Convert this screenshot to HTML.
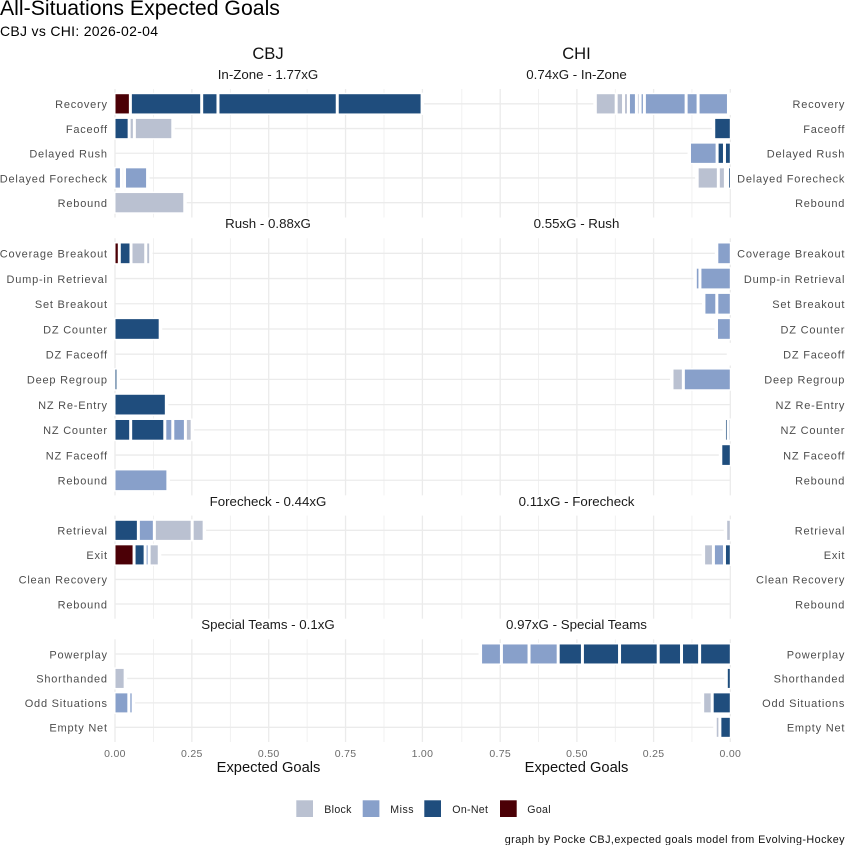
<!DOCTYPE html>
<html lang="en">
<head>
<meta charset="utf-8">
<title>All-Situations Expected Goals</title>
<style>
html,body{margin:0;padding:0;background:#fff;width:845px;height:845px;overflow:hidden}
svg{display:block}
text{font-family:"Liberation Sans",sans-serif}
</style>
</head>
<body>
<svg id="chart" xmlns="http://www.w3.org/2000/svg" width="845" height="845" viewBox="0 0 845 845">
  <rect x="0" y="0" width="845" height="845" fill="#ffffff"/>
  <g id="grid"></g>
  <g id="bars"></g>
  <g id="labels"></g>

  <text x="0" y="15" font-size="21.25" fill="#000">All-Situations Expected Goals</text>
  <text x="0" y="36" font-size="14" letter-spacing="0.3" fill="#000">CBJ vs CHI: 2026-02-04</text>
  <text x="268" y="59" font-size="16.6" text-anchor="middle" fill="#111">CBJ</text>
  <text x="576.5" y="59" font-size="16.6" text-anchor="middle" fill="#111">CHI</text>

  <text x="268" y="79" font-size="13.3" text-anchor="middle" fill="#1a1a1a">In-Zone - 1.77xG</text>
  <text x="576.5" y="79" font-size="13.3" text-anchor="middle" fill="#1a1a1a">0.74xG - In-Zone</text>
  <text x="268" y="228" font-size="13.3" text-anchor="middle" fill="#1a1a1a">Rush - 0.88xG</text>
  <text x="576.5" y="228" font-size="13.3" text-anchor="middle" fill="#1a1a1a">0.55xG - Rush</text>
  <text x="268" y="506" font-size="13.3" text-anchor="middle" fill="#1a1a1a">Forecheck - 0.44xG</text>
  <text x="576.5" y="506" font-size="13.3" text-anchor="middle" fill="#1a1a1a">0.11xG - Forecheck</text>
  <text x="268" y="629" font-size="13.3" text-anchor="middle" fill="#1a1a1a">Special Teams - 0.1xG</text>
  <text x="576.5" y="629" font-size="13.3" text-anchor="middle" fill="#1a1a1a">0.97xG - Special Teams</text>

  <text x="268.5" y="772" font-size="14.7" text-anchor="middle" fill="#111">Expected Goals</text>
  <text x="576.5" y="772" font-size="14.7" text-anchor="middle" fill="#111">Expected Goals</text>

  <g>
    <g>
      <rect x="296.3" y="800.3" width="16.7" height="16.7" fill="#bac1d1"/>
      <text x="324.3" y="813" font-size="10.6" letter-spacing="0.3" fill="#222">Block</text>
    </g>
    <g>
      <rect x="362.7" y="800.3" width="16.7" height="16.7" fill="#88a0ca"/>
      <text x="390.3" y="813" font-size="10.6" letter-spacing="0.5" fill="#222">Miss</text>
    </g>
    <g>
      <rect x="424.3" y="800.3" width="16.7" height="16.7" fill="#1f4d7d"/>
      <text x="452.3" y="813" font-size="10.6" letter-spacing="0.3" fill="#222">On-Net</text>
    </g>
    <g>
      <rect x="500" y="800.3" width="16.7" height="16.7" fill="#4b0006"/>
      <text x="527.3" y="813" font-size="10.6" letter-spacing="0.3" fill="#222">Goal</text>
    </g>
  </g>
  <text x="845" y="843" font-size="10.8" letter-spacing="0.43" text-anchor="end" fill="#111">graph by Pocke CBJ,expected goals model from Evolving-Hockey</text>
</svg>
<script>
// ---- categories ----
const inZoneCategories = ['Recovery','Faceoff','Delayed Rush','Delayed Forecheck','Rebound'];
const rushCategories = ['Coverage Breakout','Dump-in Retrieval','Set Breakout','DZ Counter','DZ Faceoff','Deep Regroup','NZ Re-Entry','NZ Counter','NZ Faceoff','Rebound'];
const forecheckCategories = ['Retrieval','Exit','Clean Recovery','Rebound'];
const specialCategories = ['Powerplay','Shorthanded','Odd Situations','Empty Net'];

// ---- tick labels ----
const cbjTicks = [0, 0.25, 0.5, 0.75, 1];
const chiTicks = [0, 0.25, 0.5, 0.75];
const minorTicks = [0.125, 0.375, 0.625, 0.875];

// ---- series: shot xG values stacked outward from 0, with shot result codes ----
// B = Block, M = Miss, O = On-Net, G = Goal
const cbjInZoneValues = [[0.050,0.232,0.053,0.388,0.276],[0.046,0.017,0.125],[],[0.021,0.010,0.075],[0.227]];
const cbjInZoneTypes  = [['G','O','O','O','O'],['O','B','B'],[],['M','M','M'],['B']];
const chiInZoneValues = [[0.006,0.099,0.039,0.136,0.014,0.012,0.026,0.016,0.024,0.068],[0.054],[0.019,0.024,0.090],[0.009,0.007,0.023,0.069],[]];
const chiInZoneTypes  = [['M','M','M','M','M','B','M','B','B','B'],['O'],['O','O','M'],['O','B','B','B'],[]];

const cbjRushValues = [[0.014,0.038,0.048,0.016],[],[],[0.147],[],[0.0095],[0.167],[0.051,0.111,0.026,0.041,0.022],[],[0.172]];
const cbjRushTypes  = [['G','O','B','B'],[],[],['O'],[],['O'],['O'],['O','O','M','M','B'],[],['M']];
const chiRushValues = [[0.044],[0.099,0.015],[0.044,0.042],[0.045],[0.005],[0.153,0.037],[],[0.007,0.012],[0.031],[]];
const chiRushTypes  = [['M'],['M','M'],['M','M'],['M'],['B'],['M','B'],[],['O','O'],['O'],[]];

const cbjForecheckValues = [[0.076,0.052,0.123,0.039],[0.062,0.036,0.013,0.033],[],[]];
const cbjForecheckTypes  = [['O','M','B','B'],['G','O','M','B'],[],[]];
const chiForecheckValues = [[0.015],[0.019,0.036,0.032],[],[]];
const chiForecheckTypes  = [['B'],['O','M','B'],[],[]];

const cbjSpecialValues = [[],[0.033],[0.045,0.014],[]];
const cbjSpecialTypes  = [[],['B'],['M','M'],[]];
const chiSpecialValues = [[0.100,0.059,0.076,0.126,0.121,0.079,0.095,0.090,0.068],[0.013],[0.059,0.031],[0.034,0.015]];
const chiSpecialTypes  = [['O','O','O','O','O','O','M','M','M'],['O'],['O','B'],['O','B']];

const resultColors = {B:'#bac1d1', M:'#88a0ca', O:'#1f4d7d', G:'#4b0006'};

// ---- axis functions ----
const NS = 'http://www.w3.org/2000/svg';
function xCbj(v){ return 115 + 307.4 * v; }
function xChi(v){ return 730.3 - 306.8 * v; }
const facetLayout = [
  {key:'in-zone',   top:89,    bottom:217.5, cats:inZoneCategories,    cbj:cbjInZoneValues,    cbjT:cbjInZoneTypes,    chi:chiInZoneValues,    chiT:chiInZoneTypes},
  {key:'rush',      top:238.2, bottom:495.4, cats:rushCategories,      cbj:cbjRushValues,      cbjT:cbjRushTypes,      chi:chiRushValues,      chiT:chiRushTypes},
  {key:'forecheck', top:515.6, bottom:618.7, cats:forecheckCategories, cbj:cbjForecheckValues, cbjT:cbjForecheckTypes, chi:chiForecheckValues, chiT:chiForecheckTypes},
  {key:'special',   top:639.3, bottom:742,   cats:specialCategories,   cbj:cbjSpecialValues,   cbjT:cbjSpecialTypes,   chi:chiSpecialValues,   chiT:chiSpecialTypes}
];
function stepOf(f){ return (f.bottom - f.top) / (f.cats.length - 1 + 1.2); }
function yOf(f,i){ return f.top + stepOf(f) * (0.6 + i); }

const gridG = document.getElementById('grid');
const barsG = document.getElementById('bars');
const labelsG = document.getElementById('labels');

function makeLine(x1,y1,x2,y2,w){
  const l = document.createElementNS(NS,'line');
  l.setAttribute('x1',x1); l.setAttribute('y1',y1);
  l.setAttribute('x2',x2); l.setAttribute('y2',y2);
  l.setAttribute('stroke','#ebebeb');
  l.setAttribute('stroke-width',w);
  gridG.appendChild(l);
  return l;
}
function makeRowLabel(txt,x,y,anchor){
  const t = document.createElementNS(NS,'text');
  t.setAttribute('x',x); t.setAttribute('y',y+4.3);
  t.setAttribute('font-size','11');
  t.setAttribute('letter-spacing','0.78');
  t.setAttribute('text-anchor',anchor);
  t.setAttribute('fill','#4d4d4d');
  t.textContent = txt;
  labelsG.appendChild(t);
  return t;
}
function makeStack(f,i,values,types,sx,dir,team){
  if(!values.length) return;
  const y = yOf(f,i), step = stepOf(f);
  const total = values.reduce((a,b)=>a+b,0);
  const g = document.createElementNS(NS,'g');
  
  
  // white halo cutting the grid lines behind the stack
  const halo = document.createElementNS(NS,'rect');
  const h0 = sx(0) - dir*1.5, h1 = sx(total) + dir*2;
  halo.setAttribute('x',Math.min(h0,h1));
  halo.setAttribute('y',y-step*0.45);
  halo.setAttribute('width',Math.abs(h1-h0));
  halo.setAttribute('height',step*0.9);
  halo.setAttribute('fill','#fff');
  
  
  g.appendChild(halo);
  let cum = 0;
  values.forEach((v,j)=>{
    const a = sx(cum) + dir*(j===0 ? 0.5 : 1.5);
    const b = sx(cum+v) - dir*1.5;
    cum += v;
    const w = (b-a)*dir;
    if(w <= 0) return;
    const r = document.createElementNS(NS,'rect');
    r.setAttribute('x',Math.min(a,b));
    r.setAttribute('y',y-step*0.45+1.5);
    r.setAttribute('width',w);
    r.setAttribute('height',step*0.9-3);
    r.setAttribute('fill',resultColors[types[j]]);
    
    
    g.appendChild(r);
  });
  barsG.appendChild(g);
}

facetLayout.forEach(f=>{
  // vertical minor + major grid
  minorTicks.forEach(t=>{
    const a = makeLine(xCbj(t),f.top,xCbj(t),f.bottom,0.7);
    
    
    const b = makeLine(xChi(t),f.top,xChi(t),f.bottom,0.7);
    
    
  });
  cbjTicks.forEach(t=>{
    const a = makeLine(xCbj(t),f.top,xCbj(t),f.bottom,1.3);
    
    
  });
  chiTicks.forEach(t=>{
    const b = makeLine(xChi(t),f.top,xChi(t),f.bottom,1.3);
    
    
  });
  // rows
  f.cats.forEach((c,i)=>{
    const y = yOf(f,i);
    const h = makeLine(xCbj(0)-0.5,y,xChi(0)+0.5,y,1.3);
    
    
    const l = makeRowLabel(c,107.8,y,'end');
    
    
    const r = makeRowLabel(c,845.2,y,'end');
    
    
    makeStack(f,i,f.cbj[i],f.cbjT[i],xCbj,1,'cbj');
    makeStack(f,i,f.chi[i],f.chiT[i],xChi,-1,'chi');
  });
});

function makeTick(v,x){
  const t = document.createElementNS(NS,'text');
  t.setAttribute('x',x); t.setAttribute('y',757);
  t.setAttribute('font-size','10.5');
  t.setAttribute('letter-spacing','0.3');
  t.setAttribute('text-anchor','middle');
  t.setAttribute('fill','#6b6b6b');
  t.textContent = v.toFixed(2);
  labelsG.appendChild(t);
  return t;
}
cbjTicks.forEach(v=>{
  const t = makeTick(v,xCbj(v));
  
  
});
chiTicks.forEach(v=>{
  const t = makeTick(v,xChi(v));
  
  
});
</script>
</body>
</html>
